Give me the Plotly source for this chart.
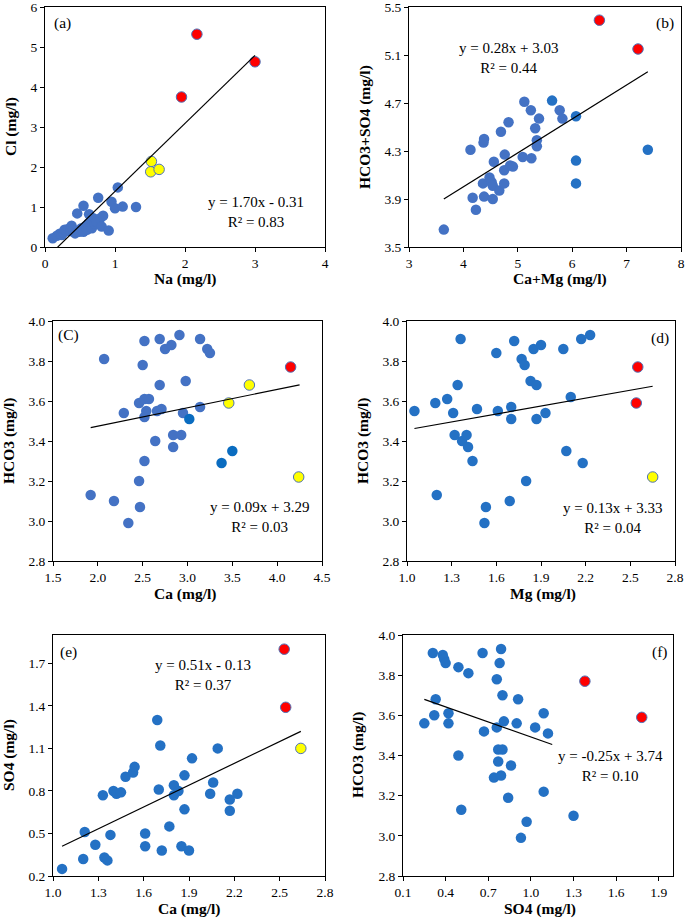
import numpy as np
import plotly.graph_objects as go

W, H = 685, 919

# ---------------- Panel (a): Na vs Cl ----------------
a_na_blue = [0.11, 0.17, 0.21, 0.24, 0.26, 0.28, 0.31, 0.33, 0.36, 0.37, 0.38, 0.40, 0.43, 0.46,
             0.49, 0.52, 0.55, 0.55, 0.58, 0.60, 0.62, 0.63, 0.67, 0.69, 0.71, 0.74, 0.76, 0.79,
             0.81, 0.83, 0.91, 0.95, 1.00, 1.04, 1.11, 1.30]
a_cl_blue = [0.22, 0.28, 0.33, 0.30, 0.36, 0.43, 0.40, 0.45, 0.40, 0.47, 0.53, 0.44, 0.34, 0.84,
             0.38, 0.47, 1.03, 0.38, 0.52, 0.43, 0.59, 0.82, 0.47, 0.72, 0.58, 0.63, 1.23, 0.72,
             0.51, 0.78, 0.41, 1.13, 0.97, 1.49, 1.01, 1.00]
a_na_yellow = [1.52, 1.51, 1.63]
a_cl_yellow = [2.14, 1.88, 1.94]
a_na_red = [2.17, 1.95, 3.00]
a_cl_red = [5.32, 3.75, 4.63]

# ---------------- Panel (b): Ca+Mg vs HCO3+SO4 ----------------
b_camg_blue = [3.64, 4.17, 4.23, 4.13, 4.37, 4.38, 4.38, 4.36, 4.48, 4.52, 4.54, 4.54, 4.56, 4.66,
               4.69, 4.75, 4.75, 4.76, 4.83, 4.86, 4.91, 5.09, 5.12, 5.24, 5.25, 5.32, 5.35, 5.35,
               5.39, 5.77, 5.82]
b_hs_blue = [3.645, 3.91, 3.81, 4.31, 4.37, 4.40, 3.92, 4.03, 4.08, 4.04, 4.01, 3.90, 4.21, 3.97,
             4.46, 4.03, 4.14, 4.27, 4.54, 4.18, 4.17, 4.25, 4.71, 4.64, 4.24, 4.49, 4.39, 4.34,
             4.57, 4.64, 4.57]
b_camg_dark = [5.63, 6.07, 6.07, 6.07, 7.39]
b_hs_dark = [4.72, 4.59, 4.22, 4.03, 4.31]
b_camg_red = [6.50, 7.21]
b_hs_red = [5.39, 5.15]

# ---------------- Panel (c): Ca vs HCO3 ----------------
c_ca_blue = [1.92, 2.07, 2.18, 2.29, 2.34, 2.46, 2.46, 2.47, 2.50, 2.52, 2.52, 2.52, 2.52, 2.54,
             2.57, 2.64, 2.66, 2.69, 2.69, 2.71, 2.75, 2.82, 2.84, 2.84, 2.91, 2.93, 2.95, 2.98,
             3.14, 3.14, 3.22, 3.25]
c_hco3_blue = [3.13, 3.81, 3.10, 3.54, 2.99, 3.20, 3.59, 3.07, 3.78, 3.90, 3.30, 3.52, 3.61, 3.55,
               3.61, 3.40, 3.55, 3.68, 3.91, 3.56, 3.86, 3.88, 3.43, 3.37, 3.93, 3.43, 3.54, 3.70,
               3.91, 3.57, 3.86, 3.84]
c_ca_dark = [3.02, 3.38, 3.50]
c_hco3_dark = [3.51, 3.29, 3.35]
c_ca_yellow = [3.69, 3.46, 4.24]
c_hco3_yellow = [3.68, 3.59, 3.22]
c_ca_red = [4.15]
c_hco3_red = [3.77]

# ---------------- Panel (d): Mg vs HCO3 ----------------
d_mg_blue = [1.05, 1.19, 1.20, 1.27, 1.31, 1.32, 1.34, 1.36, 1.37, 1.40, 1.41, 1.44, 1.47, 1.52,
             1.53, 1.60, 1.61, 1.69, 1.70, 1.70, 1.72, 1.77, 1.79, 1.80, 1.83, 1.85, 1.87, 1.87,
             1.90, 1.93, 2.05, 2.07, 2.10, 2.17, 2.18, 2.23]
d_hco3_blue = [3.55, 3.59, 3.13, 3.61, 3.54, 3.43, 3.68, 3.91, 3.40, 3.43, 3.37, 3.30, 3.56, 2.99,
               3.07, 3.84, 3.55, 3.10, 3.57, 3.51, 3.90, 3.81, 3.78, 3.20, 3.70, 3.86, 3.68, 3.51,
               3.88, 3.54, 3.86, 3.35, 3.62, 3.91, 3.29, 3.93]
d_mg_red = [2.55, 2.54]
d_hco3_red = [3.77, 3.59]
d_mg_yellow = [2.65]
d_hco3_yellow = [3.22]

# ---------------- Panel (e): Ca vs SO4 ----------------
e_ca_blue = [1.06, 1.20, 1.21, 1.28, 1.33, 1.34, 1.36, 1.38, 1.40, 1.42, 1.45, 1.48, 1.53, 1.54,
             1.61, 1.61, 1.69, 1.70, 1.71, 1.72, 1.77, 1.80, 1.80, 1.83, 1.85, 1.87, 1.87, 1.90,
             1.92, 2.04, 2.06, 2.09, 2.17, 2.17, 2.22]
e_so4_blue = [0.25, 0.32, 0.51, 0.42, 0.77, 0.33, 0.31, 0.49, 0.80, 0.78, 0.79, 0.90, 0.93, 0.97,
              0.50, 0.41, 1.30, 0.81, 1.12, 0.38, 0.55, 0.84, 0.77, 0.80, 0.41, 0.91, 0.67, 0.38,
              1.03, 0.78, 0.86, 1.10, 0.74, 0.66, 0.78]
e_ca_red = [2.53, 2.54]
e_so4_red = [1.80, 1.39]
e_ca_yellow = [2.64]
e_so4_yellow = [1.10]

# ---------------- Panel (f): SO4 vs HCO3 ----------------
f_so4_blue = [0.25, 0.31, 0.32, 0.33, 0.38, 0.39, 0.40, 0.42, 0.42, 0.49, 0.49, 0.51, 0.56, 0.66,
              0.67, 0.74, 0.76, 0.76, 0.77, 0.77, 0.78, 0.79, 0.79, 0.80, 0.80, 0.81, 0.84, 0.86,
              0.90, 0.91, 0.93, 0.97, 1.03, 1.09, 1.09, 1.12, 1.30]
f_hco3_blue = [3.56, 3.91, 3.60, 3.68, 3.90, 3.88, 3.86, 3.61, 3.56, 3.40, 3.84, 3.13, 3.81, 3.91,
               3.52, 3.29, 3.54, 3.78, 3.43, 3.37, 3.86, 3.93, 3.30, 3.43, 3.70, 3.57, 3.19, 3.35,
               3.56, 3.68, 2.99, 3.07, 3.54, 3.61, 3.22, 3.51, 3.10]
f_so4_red = [1.38, 1.78]
f_hco3_red = [3.77, 3.59]

# ---------------- Trend lines (slope, intercept, x-start, x-end) ----------------
trend_slope = [1.70, 0.283, 0.092, 0.132, 0.513, -0.25]
trend_intercept = [-0.31, 2.87, 3.29, 3.324, -0.134, 3.742]
trend_x0 = [0.18, 3.64, 1.92, 1.05, 1.06, 0.25]
trend_x1 = [3.00, 7.39, 4.25, 2.65, 2.64, 1.15]
equations = ["y = 1.70x - 0.31<br>R² = 0.83",
             "y = 0.28x + 3.03<br>R² = 0.44",
             "y = 0.09x + 3.29<br>R² = 0.03",
             "y = 0.13x + 3.33<br>R² = 0.04",
             "y = 0.51x - 0.13<br>R² = 0.37",
             "y = -0.25x + 3.74<br>R² = 0.10"]
panel_labels = ["(a)", "(b)", "(C)", "(d)", "(e)", "(f)"]
x_titles = ["Na (mg/l)", "Ca+Mg (mg/l)", "Ca (mg/l)", "Mg (mg/l)", "Ca (mg/l)", "SO4 (mg/l)"]
y_titles = ["Cl (mg/l)", "HCO3+SO4 (mg/l)", "HCO3 (mg/l)", "HCO3 (mg/l)", "SO4 (mg/l)", "HCO3 (mg/l)"]

# axis settings: (range, tick0, dtick, format)
x_axes = [([0, 4], 0, 1, "d"), ([3, 8], 3, 1, "d"), ([1.5, 4.5], 1.5, 0.5, ".1f"),
          ([1.0, 2.8], 1.0, 0.3, ".1f"), ([1.0, 2.8], 1.0, 0.3, ".1f"), ([0.1, 2.0], 0.1, 0.3, ".1f")]
y_axes = [([0, 6], 0, 1, "d"), ([3.5, 5.5], 3.5, 0.4, ".1f"), ([2.8, 4.0], 2.8, 0.2, ".1f"),
          ([2.8, 4.0], 2.8, 0.2, ".1f"), ([0.2, 1.9], 0.2, 0.3, ".1f"), ([2.8, 4.0], 2.8, 0.2, ".1f")]

# plot boxes in pixels (left, right, top, bottom)
boxes = [(45, 325, 7, 247), (409, 681, 7, 247), (53, 322, 321, 561),
         (407, 675, 321, 561), (53, 325, 635, 876), (403, 673, 635, 876)]
# label positions in pixels
panel_label_pos = [(62, 23), (665, 23), (68, 335), (660, 338), (68, 652), (660, 652)]
eq_pos = [(256, 212), (508, 58), (259, 517), (612, 518), (203, 675), (610, 766)]
xtitle_pos = [(185, 279), (560, 279), (185, 594), (543, 594), (189, 909), (540, 909)]
ytitle_pos = [(11, 127), (365, 127), (9, 441), (363, 441), (9, 755), (358, 755)]

FONT = "Liberation Serif"
BLUE = "#4472C4"
DBLUE = "#2471C4"
DARK = "#0A6CC0"
RED = "#FF0000"
YEL = "#FFFF00"
EDGE = "#4F72B8"
MS = 10.5


def px(x):
    return x / W


def py(y):
    return 1 - y / H


fig = go.Figure()


def add_pts(i, xs, ys, color, edge=None):
    suf = "" if i == 0 else str(i + 1)
    fig.add_trace(go.Scatter(
        x=xs, y=ys, mode="markers", xaxis="x" + suf, yaxis="y" + suf,
        marker=dict(size=MS, color=color,
                    line=dict(width=1 if edge else 0, color=edge if edge else color)),
        showlegend=False, hoverinfo="x+y"))


add_pts(0, a_na_blue, a_cl_blue, BLUE)
add_pts(0, a_na_yellow, a_cl_yellow, YEL, EDGE)
add_pts(0, a_na_red, a_cl_red, RED, EDGE)
add_pts(1, b_camg_blue, b_hs_blue, BLUE)
add_pts(1, b_camg_dark, b_hs_dark, DBLUE)
add_pts(1, b_camg_red, b_hs_red, RED, EDGE)
add_pts(2, c_ca_blue, c_hco3_blue, BLUE)
add_pts(2, c_ca_dark, c_hco3_dark, DARK)
add_pts(2, c_ca_yellow, c_hco3_yellow, YEL, EDGE)
add_pts(2, c_ca_red, c_hco3_red, RED, EDGE)
add_pts(3, d_mg_blue, d_hco3_blue, DBLUE)
add_pts(3, d_mg_red, d_hco3_red, RED, EDGE)
add_pts(3, d_mg_yellow, d_hco3_yellow, YEL, EDGE)
add_pts(4, e_ca_blue, e_so4_blue, DBLUE)
add_pts(4, e_ca_red, e_so4_red, RED, EDGE)
add_pts(4, e_ca_yellow, e_so4_yellow, YEL, EDGE)
add_pts(5, f_so4_blue, f_hco3_blue, DBLUE)
add_pts(5, f_so4_red, f_hco3_red, RED, EDGE)

# trend lines
for i in range(6):
    suf = "" if i == 0 else str(i + 1)
    xs = np.array([trend_x0[i], trend_x1[i]])
    ys = trend_slope[i] * xs + trend_intercept[i]
    fig.add_trace(go.Scatter(x=xs, y=ys, mode="lines", xaxis="x" + suf, yaxis="y" + suf,
                             line=dict(color="black", width=1.2), showlegend=False,
                             hoverinfo="skip"))

layout = dict(width=W, height=H, margin=dict(l=0, r=0, t=0, b=0, autoexpand=False),
              paper_bgcolor="white", plot_bgcolor="white",
              font=dict(family=FONT, color="black"), showlegend=False)

annotations = []
for i in range(6):
    suf = "" if i == 0 else str(i + 1)
    l, r, t, b = boxes[i]
    xr, xt0, xdt, xfmt = x_axes[i]
    yr, yt0, ydt, yfmt = y_axes[i]
    common = dict(showline=True, mirror=True, linecolor="black", linewidth=1,
                  ticks="outside", ticklen=4, tickwidth=1, tickcolor="black",
                  showgrid=False, zeroline=False, automargin=False,
                  ticklabeloverflow="allow",
                  tickfont=dict(family=FONT, size=13.5, color="black"))
    layout["xaxis" + suf] = dict(domain=[px(l), px(r)], range=xr, tick0=xt0, dtick=xdt,
                                 tickformat=xfmt, anchor="y" + suf, **common)
    layout["yaxis" + suf] = dict(domain=[py(b), py(t)], range=[yr[0], yr[1] + 1e-9],
                                 tick0=yt0, dtick=ydt,
                                 tickformat=yfmt, anchor="x" + suf, **common)
    lx, ly = panel_label_pos[i]
    annotations.append(dict(x=px(lx), y=py(ly), xref="paper", yref="paper", text=panel_labels[i],
                            showarrow=False, xanchor="center", yanchor="middle",
                            font=dict(family=FONT, size=15.5, color="black")))
    ex, ey = eq_pos[i]
    annotations.append(dict(x=px(ex), y=py(ey), xref="paper", yref="paper", text=equations[i],
                            showarrow=False, xanchor="center", yanchor="middle", align="center",
                            font=dict(family=FONT, size=15, color="black")))
    tx, ty = xtitle_pos[i]
    annotations.append(dict(x=px(tx), y=py(ty), xref="paper", yref="paper",
                            text="<b>" + x_titles[i] + "</b>", showarrow=False,
                            xanchor="center", yanchor="middle",
                            font=dict(family=FONT, size=15.5, color="black")))
    vx, vy = ytitle_pos[i]
    annotations.append(dict(x=px(vx), y=py(vy), xref="paper", yref="paper",
                            text="<b>" + y_titles[i] + "</b>", showarrow=False, textangle=-90,
                            xanchor="center", yanchor="middle",
                            font=dict(family=FONT, size=15.5, color="black")))

layout["annotations"] = annotations
fig.update_layout(**layout)
fig.write_html("out.html", config={"displayModeBar": False},
               post_script="document.body.style.margin='0';document.body.style.overflow='hidden';")
